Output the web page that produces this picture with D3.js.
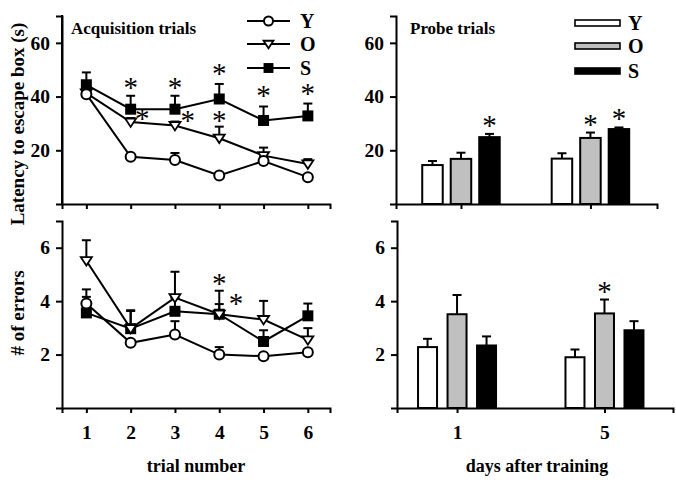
<!DOCTYPE html>
<html>
<head>
<meta charset="utf-8">
<script src="https://cdn.jsdelivr.net/npm/d3@7"></script>
<style>
  html, body { margin: 0; padding: 0; background: #fff; }
  svg text { font-family: "Liberation Serif", "Times New Roman", serif; }
</style>
</head>
<body>
<svg id="chart" width="676" height="483"></svg>
<script>
// ---------------- DATA ----------------
const trials = [1, 2, 3, 4, 5, 6];
const groups = ["Y", "O", "S"];
const days = ["1", "5"];

// Acquisition latency (s): mean and SEM
const latencyY = [40.9, 17.6, 16.4, 10.6, 16.0, 10.0];
const latencyYErr = [1.0, 1.0, 2.6, 0.8, 1.5, 0.8];
const latencyO = [41.3, 30.5, 29.2, 24.5, 18.0, 14.9];
const latencyOErr = [1.5, 1.5, 1.5, 4.3, 3.0, 1.8];
const latencyS = [44.4, 35.3, 35.3, 39.1, 31.1, 32.8];
const latencySErr = [4.6, 5.0, 5.0, 5.6, 5.2, 4.6];

// Acquisition errors: mean and SEM
const errorsY = [3.91, 2.44, 2.75, 2.0, 1.94, 2.09];
const errorsYErr = [0.53, 0.1, 0.5, 0.28, 0.1, 0.1];
const errorsO = [5.51, 2.97, 4.13, 3.51, 3.31, 2.55];
const errorsOErr = [0.77, 0.66, 0.97, 0.88, 0.70, 0.44];
const errorsS = [3.56, 2.97, 3.62, 3.51, 2.49, 3.45];
const errorsSErr = [0.6, 0.69, 0.5, 0.38, 0.42, 0.46];

// Probe latency (s) by day: mean and SEM
const probeLatY = [14.5, 16.9], probeLatYErr = [1.5, 2.0];
const probeLatO = [16.8, 24.6], probeLatOErr = [2.3, 2.0];
const probeLatS = [24.9, 27.9], probeLatSErr = [1.2, 0.6];

// Probe errors by day: mean and SEM
const probeErrY = [2.28, 1.90], probeErrYErr = [0.31, 0.29];
const probeErrO = [3.51, 3.54], probeErrOErr = [0.72, 0.52];
const probeErrS = [2.34, 2.91], probeErrSErr = [0.34, 0.34];

// significance markers (line panels: [trial, value])
const latencyStars = [[2, 44.7], [3, 44.7], [4, 49.9], [5, 41.7], [6, 42.4], [2.26, 33.1], [3.29, 32.4], [4, 32.4]];
const errorsStars = [[4, 4.79], [4.38, 4.04]];
// bar panels: [group, day]
const probeLatStars = [["S", "1"], ["O", "5"], ["S", "5"]];
const probeErrStars = [["O", "5"]];

const latencyTicks = [20, 40, 60];
const errorTicks = [2, 4, 6];

// ---------------- DRAW ----------------
const svg = d3.select("#chart");
const FONT = "Liberation Serif";
const fmt = d3.format("d");

const xTrial = d3.scaleLinear().domain([0.45, 6.5]).range([62, 330]);
const yLatL = d3.scaleLinear().domain([0, 70]).range([204, 16]);
const yErrL = d3.scaleLinear().domain([0, 7]).range([408, 221]);

const xDayTop = d3.scalePoint().domain(days).range([396, 657]).padding(0.508).align(0.494);
const xDayBot = d3.scalePoint().domain(days).range([397, 673]).padding(0.436).align(0.467);
const yLatR = d3.scaleLinear().domain([0, 70]).range([204, 16]);
const yErrR = d3.scaleLinear().domain([0, 7]).range([408, 221]);

function styleAxis(g, fs) {
  g.select(".domain").attr("stroke", "#000").attr("stroke-width", 2);
  g.selectAll(".tick line").attr("stroke", "#000").attr("stroke-width", 2);
  g.selectAll(".tick text").attr("font-family", FONT).attr("font-weight", "bold")
    .attr("font-size", fs).attr("fill", "#000");
}

function yAxis(x, scale, ticks) {
  const g = svg.append("g").attr("transform", `translate(${x},0)`)
    .call(d3.axisLeft(scale).tickValues(ticks).tickFormat(fmt).tickSizeOuter(0).tickSize(6).tickPadding(6));
  styleAxis(g, 19.5);
}
function xAxis(y, scale, ticks, showLabels) {
  const ax = d3.axisBottom(scale).tickSizeOuter(0).tickSize(5).tickPadding(12);
  if (ticks) ax.tickValues(ticks).tickFormat(fmt);
  if (!showLabels) ax.tickFormat(() => "");
  const g = svg.append("g").attr("transform", `translate(0,${y})`).call(ax);
  styleAxis(g, 19.5);
}

// markers
function drawMarker(g, type, x, y, s) {
  s = s || 1;
  if (type === "Y") {
    g.append("circle").attr("cx", x).attr("cy", y).attr("r", 5 * s)
      .attr("fill", "#fff").attr("stroke", "#000").attr("stroke-width", 2);
  } else if (type === "O") {
    const w = 5.5 * s, h = 8 * s;
    g.append("path").attr("d", `M${x - w},${y - h * 0.45}L${x + w},${y - h * 0.45}L${x},${y + h * 0.6}Z`)
      .attr("fill", "#fff").attr("stroke", "#000").attr("stroke-width", 1.8).attr("stroke-linejoin", "miter");
  } else {
    g.append("rect").attr("x", x - 5.5 * s).attr("y", y - 5.5 * s).attr("width", 11 * s).attr("height", 11 * s)
      .attr("fill", "#000");
  }
}

function linePanel(scaleY, series) {
  const g = svg.append("g");
  const line = d3.line().x((d, i) => xTrial(trials[i])).y(d => scaleY(d));
  series.forEach(s => {
    g.append("path").datum(s.mean).attr("d", line)
      .attr("fill", "none").attr("stroke", "#000").attr("stroke-width", 2);
  });
  series.forEach(s => {
    s.mean.forEach((m, i) => {
      const x = xTrial(trials[i]);
      const y0 = scaleY(m), y1 = scaleY(m + s.err[i]);
      g.append("line").attr("x1", x).attr("x2", x).attr("y1", y0).attr("y2", y1)
        .attr("stroke", "#000").attr("stroke-width", 2);
      g.append("line").attr("x1", x - 4.5).attr("x2", x + 4.5).attr("y1", y1).attr("y2", y1)
        .attr("stroke", "#000").attr("stroke-width", 2);
    });
  });
  series.forEach(s => {
    s.mean.forEach((m, i) => drawMarker(g, s.key, xTrial(trials[i]), scaleY(m)));
  });
}

function star(x, cy) {
  svg.append("text").attr("x", x).attr("y", cy + 13).attr("text-anchor", "middle")
    .attr("font-family", FONT).attr("font-size", 29).attr("fill", "#000").text("*");
}

const barFill = { Y: "#fff", O: "#c0c0c0", S: "#000" };

function barPanel(xScale, scaleY, series, pitch, bw, stars) {
  const g = svg.append("g");
  series.forEach((s, si) => {
    s.mean.forEach((m, di) => {
      const cx = xScale(days[di]) + (si - 1) * pitch;
      g.append("rect").attr("x", cx - bw / 2).attr("y", scaleY(m))
        .attr("width", bw).attr("height", scaleY(0) - scaleY(m))
        .attr("fill", barFill[s.key]).attr("stroke", "#000").attr("stroke-width", 2);
      const y1 = scaleY(m + s.err[di]);
      g.append("line").attr("x1", cx).attr("x2", cx).attr("y1", scaleY(m)).attr("y2", y1)
        .attr("stroke", "#000").attr("stroke-width", 2);
      g.append("line").attr("x1", cx - 4.5).attr("x2", cx + 4.5).attr("y1", y1).attr("y2", y1)
        .attr("stroke", "#000").attr("stroke-width", 2);
    });
  });
  stars.forEach(([key, day]) => {
    const si = groups.indexOf(key), di = days.indexOf(day);
    const s = series[si];
    const cx = xScale(day) + (si - 1) * pitch;
    star(cx, scaleY(s.mean[di] + s.err[di]) - 12);
  });
}

// ---- Top-left: acquisition latency
linePanel(yLatL, [
  { key: "S", mean: latencyS, err: latencySErr },
  { key: "O", mean: latencyO, err: latencyOErr },
  { key: "Y", mean: latencyY, err: latencyYErr }
]);
yAxis(62, yLatL, latencyTicks);
svg.append("line").attr("x1", 62).attr("x2", 62).attr("y1", 15).attr("y2", 205).attr("stroke", "#000").attr("stroke-width", 2);
xAxis(204, xTrial, trials, false);
latencyStars.forEach(([t, v]) => star(xTrial(t), yLatL(v)));

// ---- Bottom-left: acquisition errors
linePanel(yErrL, [
  { key: "S", mean: errorsS, err: errorsSErr },
  { key: "O", mean: errorsO, err: errorsOErr },
  { key: "Y", mean: errorsY, err: errorsYErr }
]);
yAxis(62, yErrL, errorTicks);
xAxis(408, xTrial, trials, true);
errorsStars.forEach(([t, v]) => star(xTrial(t), yErrL(v)));

// ---- Top-right: probe latency
barPanel(xDayTop, yLatR, [
  { key: "Y", mean: probeLatY, err: probeLatYErr },
  { key: "O", mean: probeLatO, err: probeLatOErr },
  { key: "S", mean: probeLatS, err: probeLatSErr }
], 28.5, 20.5, probeLatStars);
yAxis(396, yLatR, latencyTicks);
xAxis(204, xDayTop, null, false);

// ---- Bottom-right: probe errors
barPanel(xDayBot, yErrR, [
  { key: "Y", mean: probeErrY, err: probeErrYErr },
  { key: "O", mean: probeErrO, err: probeErrOErr },
  { key: "S", mean: probeErrS, err: probeErrSErr }
], 29.5, 19, probeErrStars);
yAxis(397, yErrR, errorTicks);
xAxis(408, xDayBot, null, true);

// ---- Titles and labels
function label(x, y, txt, fs, rot) {
  const t = svg.append("text").attr("font-family", FONT).attr("font-weight", "bold")
    .attr("font-size", fs).attr("fill", "#000").attr("text-anchor", "middle").text(txt);
  if (rot) t.attr("transform", `translate(${x},${y}) rotate(-90)`);
  else t.attr("x", x).attr("y", y);
}
svg.append("text").attr("x", 71).attr("y", 34).attr("font-family", FONT).attr("font-weight", "bold")
  .attr("font-size", 17).text("Acquisition trials");
svg.append("text").attr("x", 410).attr("y", 34).attr("font-family", FONT).attr("font-weight", "bold")
  .attr("font-size", 17).text("Probe trials");
label(24, 124, "Latency to escape box (s)", 19, true);
label(24, 313, "# of errors", 19, true);
label(196, 472, "trial number", 18, false);
label(537, 472, "days after training", 18, false);

// ---- Legends
const legY = [21, 44, 68];
groups.forEach((k, i) => {
  svg.append("line").attr("x1", 247).attr("x2", 290).attr("y1", legY[i]).attr("y2", legY[i])
    .attr("stroke", "#000").attr("stroke-width", 2);
  drawMarker(svg, k, 268.5, legY[i], 0.9);
  svg.append("text").attr("x", 300).attr("y", legY[i] + 7).attr("font-family", FONT)
    .attr("font-weight", "bold").attr("font-size", 20).text(k);
});
const legY2 = [23, 46, 71];
groups.forEach((k, i) => {
  svg.append("rect").attr("x", 575).attr("y", legY2[i] - 3).attr("width", 45).attr("height", 6)
    .attr("fill", barFill[k]).attr("stroke", "#000").attr("stroke-width", 1.6);
  svg.append("text").attr("x", 628).attr("y", legY2[i] + 7).attr("font-family", FONT)
    .attr("font-weight", "bold").attr("font-size", 20).text(k);
});
</script>
</body>
</html>
